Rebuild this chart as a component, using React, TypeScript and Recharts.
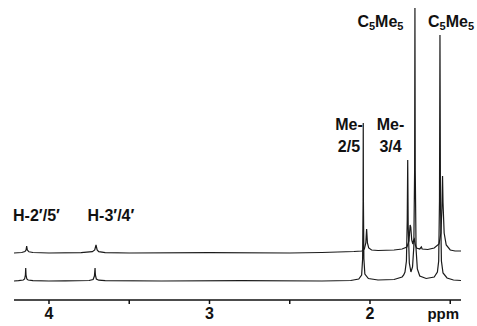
import { LineChart, Line, XAxis, YAxis, ReferenceDot } from 'recharts';

// chemical shift axis (ppm, decreasing to the right)
const ppmDomain: [number, number] = [1.433, 4.218];
const ppmTicks = [4, 3.5, 3, 2.5, 2, 1.5];
const tickText: Record<string, string> = { '4': '4', '3': '3', '2': '2', '1.5': 'ppm' };

// lower spectrum: [ppm, intensity above its own baseline]
const lowerTrace: [number, number][] = [
  [4.218, 0], [4.19, 0.3], [4.16, 1], [4.152, 2], [4.147, 6], [4.145, 13], [4.143, 6], [4.138, 2],
  [4.13, 1], [4.1, 0.3], [4.0, 0], [3.9, 0.2], [3.75, 0.5], [3.725, 1.5], [3.717, 5], [3.713, 13],
  [3.711, 6], [3.705, 2], [3.69, 0.8], [3.65, 0.3], [3.3, 0], [2.8, 0.3], [2.3, 0], [2.12, 0.5],
  [2.07, 2], [2.052, 6], [2.046, 22], [2.043, 80], [2.042, 158], [2.041, 80], [2.038, 22], [2.032, 7],
  [2.01, 2.5], [1.95, 1], [1.85, 1.5], [1.8, 4], [1.79, 6], [1.782, 9], [1.773, 20], [1.768, 60],
  [1.765, 121], [1.762, 55], [1.755, 18], [1.745, 9], [1.735, 14], [1.727, 34], [1.722, 110],
  [1.72, 273], [1.718, 110], [1.713, 32], [1.705, 12], [1.69, 5], [1.65, 2.5], [1.6, 4], [1.58, 9],
  [1.572, 20], [1.567, 80], [1.564, 246], [1.561, 80], [1.555, 20], [1.545, 8], [1.52, 3],
  [1.48, 1], [1.433, 0.5],
];

// upper spectrum
const upperTrace: [number, number][] = [
  [4.218, 0], [4.17, 0.5], [4.15, 1.5], [4.143, 3], [4.139, 7], [4.135, 3], [4.125, 1.2], [4.1, 0.5],
  [4.0, 0], [3.8, 0.3], [3.73, 1.3], [3.715, 3], [3.707, 8], [3.7, 3], [3.69, 1.3], [3.65, 0.4],
  [3.5, 0], [3.0, 0.3], [2.5, 0], [2.3, 0.5], [2.2, 1], [2.1, 1.5], [2.05, 2], [2.035, 4],
  [2.026, 10], [2.021, 24], [2.016, 10], [2.008, 5], [1.99, 3], [1.95, 2.5], [1.85, 3], [1.8, 4],
  [1.77, 6], [1.757, 12], [1.75, 28], [1.746, 26], [1.74, 13], [1.733, 9], [1.728, 13], [1.724, 14],
  [1.718, 8], [1.71, 5], [1.69, 4], [1.68, 6], [1.675, 4], [1.64, 3.5], [1.6, 5], [1.57, 9],
  [1.558, 20], [1.552, 45], [1.548, 77], [1.545, 50], [1.538, 20], [1.525, 8], [1.5, 3],
  [1.47, 2], [1.433, 2],
];

// peak assignments: text lines ("_5" = subscript), ppm, height on the plot
const peakLabels: { lines: string[]; ppm: number; y: number }[] = [
  { lines: ["H-2′/5′"], ppm: 4.078, y: 79 },
  { lines: ["H-3′/4′"], ppm: 3.614, y: 79 },
  { lines: ["Me-", "2/5"], ppm: 2.131, y: 170 },
  { lines: ["Me-", "3/4"], ppm: 1.872, y: 170 },
  { lines: ["C_5Me_5"], ppm: 1.935, y: 273 },
  { lines: ["C_5Me_5"], ppm: 1.495, y: 273 },
];

const LOWER_BASE = 19;
const UPPER_BASE = 47;

const FONT = '"Liberation Sans", Arial, Helvetica, sans-serif';

const toPoints = (trace: [number, number][], base: number) =>
  trace.map(([ppm, v]) => ({ ppm, v: v + base }));

// one text line; subscripts marked with "_"
const LabelLine = ({ text, x, y }: { text: string; x: number; y: number }) => {
  const parts = text.split(/(_\d)/).filter(Boolean);
  return (
    <text x={x} y={y} textAnchor="middle" fontFamily={FONT} fontWeight="bold" fontSize={16} fill="#111">
      {parts.map((p, i) =>
        p.startsWith('_') ? (
          <tspan key={i} fontSize={11} dy={3}>{p.slice(1)}</tspan>
        ) : (
          <tspan key={i} dy={i > 0 ? -3 : undefined}>{p}</tspan>
        )
      )}
    </text>
  );
};

const LabelShape = (lines: string[]) => (props: any) => {
  const { cx, cy } = props;
  return (
    <g>
      {lines.map((l, i) => (
        <LabelLine key={i} text={l} x={cx} y={cy + i * 22} />
      ))}
    </g>
  );
};

const PpmTick = (props: any) => {
  const { x, y, payload } = props;
  const label = tickText[String(payload.value)] ?? '';
  if (!label) return null;
  const isUnit = label === 'ppm';
  return (
    <text x={x + (isUnit ? -7 : 0)} y={y + 13} textAnchor="middle" fontFamily={FONT} fontWeight="bold"
      fontSize={isUnit ? 15 : 16} fill="#111">
      {label}
    </text>
  );
};

export default function App() {
  const lower = toPoints(lowerTrace, LOWER_BASE);
  const upper = toPoints(upperTrace, UPPER_BASE);
  return (
    <div style={{ position: 'absolute', left: 0, top: 0, width: 477, height: 326, background: '#fff' }}>
      <LineChart width={477} height={326} margin={{ top: 5, right: 16, left: 14, bottom: 0 }}>
        <XAxis
          dataKey="ppm"
          type="number"
          domain={ppmDomain}
          reversed
          allowDataOverflow
          ticks={ppmTicks}
          height={26}
          stroke="#111"
          strokeWidth={1.5}
          tickSize={4}
          tick={<PpmTick />}
        />
        <YAxis type="number" domain={[0, 295]} hide allowDataOverflow />
        <Line data={upper} dataKey="v" type="linear" stroke="#1a1a1a" strokeWidth={1.2} dot={false} isAnimationActive={false} />
        <Line data={lower} dataKey="v" type="linear" stroke="#1a1a1a" strokeWidth={1.2} dot={false} isAnimationActive={false} />
        {peakLabels.map((p, i) => (
          <ReferenceDot key={i} x={p.ppm} y={p.y} r={0} ifOverflow="visible" shape={LabelShape(p.lines)} />
        ))}
      </LineChart>
    </div>
  );
}
